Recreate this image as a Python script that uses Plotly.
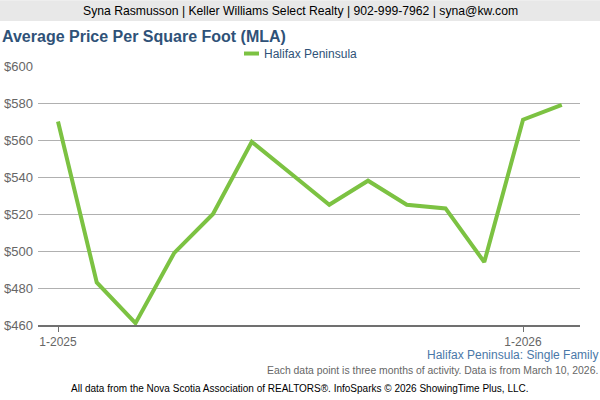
import plotly.graph_objects as go

months = ["1-2025", "2-2025", "3-2025", "4-2025", "5-2025", "6-2025", "7-2025",
          "8-2025", "9-2025", "10-2025", "11-2025", "12-2025", "1-2026", "2-2026"]
price_per_sqft = [570, 483, 461, 499, 520, 559, 542, 525, 538, 525, 523, 494, 571, 579]
series_name = "Halifax Peninsula"
tick_labels = ["1-2025", "1-2026"]
y_ticks = [460, 480, 500, 520, 540, 560, 580, 600]

FONT = "Liberation Sans, Arial, sans-serif"
GREEN = "#7cc242"
BLUE = "#2f5278"

x_idx = list(range(len(months)))
tick_pos = [months.index(t) for t in tick_labels]

PL, PR, PT, PB = 38, 580, 66, 325.5
PW, PH = PR - PL, PB - PT

def px(x):
    return (x - PL) / PW

def py(y):
    return (PB - y) / PH

fig = go.Figure()
fig.add_trace(go.Scatter(
    x=x_idx, y=price_per_sqft, mode="lines", name=series_name,
    line=dict(color=GREEN, width=4), customdata=months,
    hovertemplate="%{customdata}: $%{y}<extra></extra>",
))

fig.update_layout(
    width=600, height=400,
    margin=dict(l=PL, r=600 - PR, t=PT, b=400 - PB, autoexpand=False),
    paper_bgcolor="white", plot_bgcolor="white",
    showlegend=False,
    font=dict(family=FONT, size=12, color="#666666"),
    xaxis=dict(
        range=[-0.516, 13.47], tickvals=tick_pos, ticktext=tick_labels,
        showgrid=False, zeroline=False, automargin=False,
        showline=True, linecolor="#707070", linewidth=2,
        ticks="outside", ticklen=5, tickcolor="#707070", tickwidth=1,
        tickfont=dict(family=FONT, size=12, color="#666666"),
    ),
    yaxis=dict(
        range=[460, 600], tickvals=y_ticks,
        ticktext=["$" + str(v) for v in y_ticks],
        showgrid=True, gridcolor="#b0b0b0", gridwidth=1,
        zeroline=False, showline=False, ticks="", automargin=False,
        ticklabelstandoff=4,
        tickfont=dict(family=FONT, size=13, color="#666666"),
    ),
)

# header bar
fig.add_shape(type="rect", xref="paper", yref="paper",
              x0=px(0), x1=px(600), y0=py(21), y1=py(0),
              fillcolor="#e8e8e8", line_width=0, layer="below")
fig.add_annotation(xref="paper", yref="paper", x=px(300), y=py(11),
                   text="Syna Rasmusson | Keller Williams Select Realty | 902-999-7962 | syna@kw.com",
                   showarrow=False, xanchor="center", yanchor="middle",
                   font=dict(family=FONT, size=12.2, color="#000000"))
# title
fig.add_annotation(xref="paper", yref="paper", x=px(0), y=py(36),
                   text="<b>Average Price Per Square Foot (MLA)</b>",
                   showarrow=False, xanchor="left", yanchor="middle",
                   font=dict(family=FONT, size=16, color=BLUE))
# legend
fig.add_shape(type="line", xref="paper", yref="paper",
              x0=px(244), x1=px(259), y0=py(53.5), y1=py(53.5),
              line=dict(color=GREEN, width=4))
fig.add_annotation(xref="paper", yref="paper", x=px(262), y=py(53.5),
                   text=series_name, showarrow=False, xanchor="left", yanchor="middle",
                   font=dict(family=FONT, size=12, color=BLUE))
# footers
fig.add_annotation(xref="paper", yref="paper", x=px(600), y=py(356),
                   text="Halifax Peninsula: Single Family", showarrow=False,
                   xanchor="right", yanchor="middle",
                   font=dict(family=FONT, size=12, color="#4a78a8"))
fig.add_annotation(xref="paper", yref="paper", x=px(600), y=py(371),
                   text="Each data point is three months of activity. Data is from March 10, 2026.",
                   showarrow=False, xanchor="right", yanchor="middle",
                   font=dict(family=FONT, size=10.4, color="#666666"))
fig.add_annotation(xref="paper", yref="paper", x=px(300), y=py(389),
                   text="All data from the Nova Scotia Association of REALTORS®. InfoSparks © 2026 ShowingTime Plus, LLC.",
                   showarrow=False, xanchor="center", yanchor="middle",
                   font=dict(family=FONT, size=10, color="#000000"))

fig.write_html("out.html", config={"displayModeBar": False},
               post_script="document.body.style.margin='0';")
